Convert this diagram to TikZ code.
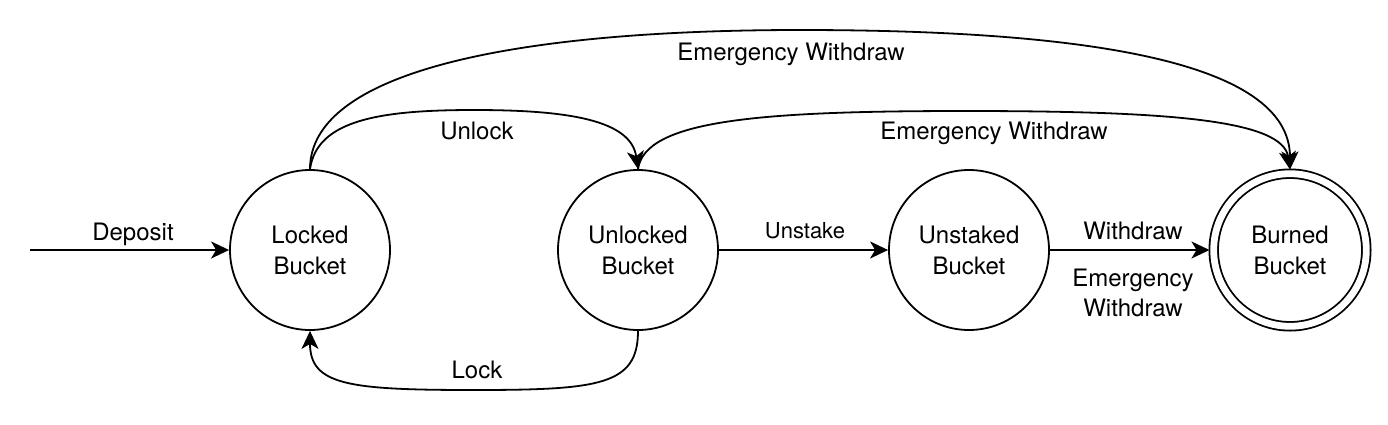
\documentclass[tikz,border=0pt]{standalone}
\usepackage{fontspec}
\setmainfont{TeX Gyre Heros}
\usetikzlibrary{arrows.meta}
\begin{document}
\begin{tikzpicture}[x=0.5pt,y=-0.5pt,
  state/.style={circle,draw,line width=0.9pt,minimum size=80pt,inner sep=0pt,align=center,font=\fontsize{12}{15.5}\selectfont},
  final/.style={state,double distance=3.4pt,minimum size=76.3pt,outer sep=2.1pt},
  lbl/.style={anchor=base,inner sep=0pt,font=\fontsize{12}{15.5}\selectfont},
  edge/.style={line width=0.9pt,-{Stealth[length=9pt,width=8.5pt,inset=2.5pt]}}]
\useasboundingbox (0,0) rectangle (1388,424);
\node[state] (lk) at (310,250) {Locked\\Bucket};
\node[state] (ul) at (638,250) {Unlocked\\Bucket};
\node[state] (us) at (969,250) {Unstaked\\Bucket};
\node[final] (bn) at (1290,250) {Burned\\Bucket};
\coordinate (start) at (30,250);
\coordinate (w1) at (800,30);
\coordinate (w2) at (474,110);
\coordinate (w3) at (965,111);
\coordinate (w4) at (474,390);
% Deposit
\draw[edge] (start) -- (lk.west);
\node[lbl] (ldep) at (133,240) {Deposit};
% Emergency (top)
\draw[edge] (lk.north) .. controls (310,70) and (520,30) .. (w1) .. controls (1080,30) and (1290,60) .. (bn.north);
\node[lbl] (lew1) at (791,60) {Emergency Withdraw};
% Unlock
\draw[edge] (lk.north) .. controls (317,120) and (380,110) .. (w2) .. controls (568,110) and (631,120) .. (ul.north);
\node[lbl] (lunl) at (477,139) {Unlock};
% Emergency (second)
\draw[edge] (ul.north) .. controls (645,120) and (760,111) .. (w3) .. controls (1170,111) and (1283,120) .. (bn.north);
\node[lbl] (lew2) at (994,139) {Emergency Withdraw};
% Lock
\draw[edge] (ul.south) .. controls (638,385) and (600,390) .. (w4) .. controls (348,390) and (310,385) .. (lk.south);
\node[lbl] (llock) at (477,378) {Lock};
% Unstake
\draw[edge] (ul.east) -- (us.west);
\node[lbl,font=\fontsize{11}{13}\selectfont] (lunst) at (805,238) {Unstake};
% Withdraw
\draw[edge] (us.east) -- (bn.west);
\node[lbl] (lwd) at (1133,239) {Withdraw};
\node[inner sep=0pt,align=center,font=\fontsize{12}{15}\selectfont] (lewd) at (1133,293) {Emergency\\Withdraw};
\end{tikzpicture}
\end{document}
